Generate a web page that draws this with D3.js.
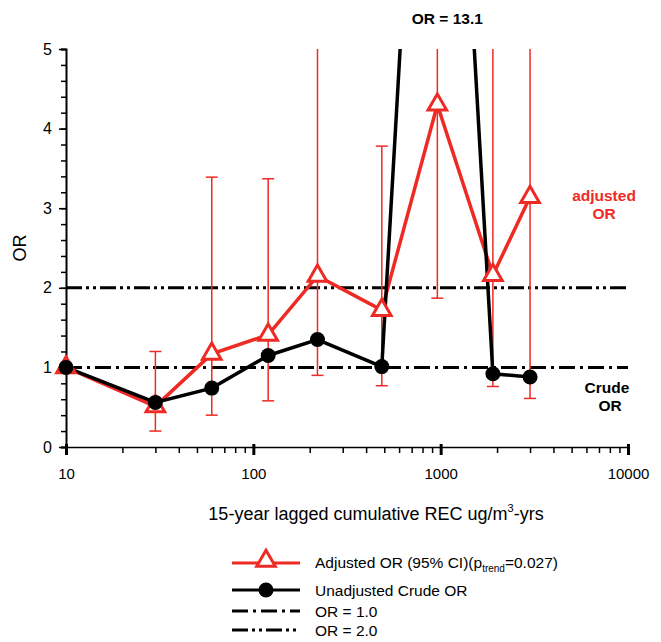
<!DOCTYPE html>
<html>
<head>
<meta charset="utf-8">
<script src="https://cdn.jsdelivr.net/npm/d3@7"></script>
<style>
  body { margin: 0; background: #fff; }
  svg text { font-family: "Liberation Sans", Arial, sans-serif; }
  .axis path, .axis line { stroke: #000; }
</style>
</head>
<body>
<div id="chart"></div>
<script>

// exposure categories (ug/m3-yrs)
var exposure = [10, 30, 60, 120, 220, 485, 960, 1900, 3000];

// adjusted OR with 95% CI (null = reference category)
var adjustedOR = [1.0, 0.51, 1.17, 1.41, 2.15, 1.72, 4.30, 2.16, 3.14];
var ciLower = [null, 0.20, 0.40, 0.58, 0.90, 0.77, 1.87, 0.76, 0.61];
var ciUpper = [null, 1.20, 3.39, 3.37, 9.0, 3.78, 20.0, 9.0, 9.0];

// unadjusted crude OR
var crudeOR = [1.0, 0.56, 0.74, 1.15, 1.35, 1.01, 13.1, 0.92, 0.88];

var yTicks = [0, 1, 2, 3, 4, 5];
var xMajorTicks = [10, 100, 1000, 10000];

var red = "#ee2a24";

var width = 661, height = 642;
var margin = {left: 66, right: 33, top: 49, bottom: 195};

var svg = d3.select("#chart").append("svg")
    .attr("width", width)
    .attr("height", height);

var x = d3.scaleLog()
    .domain([10, 10000])
    .range([margin.left, width - margin.right]);
var y = d3.scaleLinear()
    .domain([0, 5])
    .range([height - margin.bottom, margin.top]);

// clip everything above OR = 5
svg.append("clipPath").attr("id", "plot-clip")
    .append("rect")
    .attr("x", 0).attr("y", y(5))
    .attr("width", width).attr("height", y(0) - y(5) + 20);

// Axes
var minorX = [];
[10, 100, 1000].forEach(function(d) {
    for (var k = 2; k <= 9; k++) minorX.push(d * k);
});

svg.append("g")
    .attr("class", "axis")
    .attr("transform", "translate(0," + y(0) + ")")
    .call(d3.axisBottom(x).tickValues(minorX).tickSize(6).tickFormat(""))
    .call(function(g) {
        g.select(".domain").attr("stroke-width", 1.5);
        g.selectAll(".tick line").attr("stroke-width", 1.5);
    });

svg.append("g")
    .attr("class", "axis")
    .attr("transform", "translate(0," + y(0) + ")")
    .call(d3.axisBottom(x).tickValues(xMajorTicks).tickSize(8).tickPadding(13)
        .tickFormat(d3.format("d")))
    .call(function(g) {
        g.select(".domain").remove();
        g.selectAll(".tick line").attr("stroke-width", 3).attr("y1", -3);
        g.selectAll(".tick text").attr("font-size", 15).attr("fill", "#000");
    });

var minorY = d3.range(0, 5.01, 0.2).map(function(d) { return +d.toFixed(1); });

svg.append("g")
    .attr("class", "axis")
    .attr("transform", "translate(" + x(10) + ",0)")
    .call(d3.axisLeft(y).tickValues(minorY).tickSize(5).tickFormat(""))
    .call(function(g) {
        g.select(".domain").attr("stroke-width", 2);
        g.selectAll(".tick line").attr("stroke-width", 1.5);
    });

svg.append("g")
    .attr("class", "axis")
    .attr("transform", "translate(" + x(10) + ",0)")
    .call(d3.axisLeft(y).tickValues(yTicks).tickSize(7).tickPadding(7)
        .tickFormat(d3.format("d")))
    .call(function(g) {
        g.select(".domain").remove();
        g.selectAll(".tick line").attr("stroke-width", 1.5);
        g.selectAll(".tick text").attr("font-size", 16).attr("fill", "#000");
    });

// axis titles
svg.append("text")
    .attr("transform", "translate(26," + y(2.5) + ") rotate(-90)")
    .attr("text-anchor", "middle")
    .attr("font-size", 18)
    .text("OR");

var xTitle = svg.append("text")
    .attr("x", 376).attr("y", 520)
    .attr("text-anchor", "middle")
    .attr("font-size", 18);
xTitle.append("tspan").text("15-year lagged cumulative REC ug/m");
xTitle.append("tspan").attr("font-size", 11).attr("dy", -8).text("3");
xTitle.append("tspan").attr("dy", 8).text("-yrs");

// reference lines
var dashOne = "16,5,3,5";
var dashTwo = "16,4,3,4,3,4";

svg.append("line")
    .attr("x1", x(10)).attr("x2", x(10000))
    .attr("y1", y(1)).attr("y2", y(1))
    .attr("stroke", "#000").attr("stroke-width", 3)
    .attr("stroke-dasharray", dashOne);
svg.append("line")
    .attr("x1", x(10)).attr("x2", x(10000))
    .attr("y1", y(2)).attr("y2", y(2))
    .attr("stroke", "#000").attr("stroke-width", 3)
    .attr("stroke-dasharray", dashTwo);

var plot = svg.append("g").attr("clip-path", "url(#plot-clip)");

// error bars
exposure.forEach(function(d, i) {
    if (ciLower[i] === null) return;
    plot.append("line")
        .attr("x1", x(d)).attr("x2", x(d))
        .attr("y1", y(ciLower[i])).attr("y2", y(ciUpper[i]))
        .attr("stroke", red).attr("stroke-width", 1.5);
    [ciLower[i], ciUpper[i]].forEach(function(v) {
        if (v > 5) return;
        plot.append("line")
            .attr("x1", x(d) - 6).attr("x2", x(d) + 6)
            .attr("y1", y(v)).attr("y2", y(v))
            .attr("stroke", red).attr("stroke-width", 1.5);
    });
});

var line = d3.line()
    .x(function(d) { return x(d[0]); })
    .y(function(d) { return y(d[1]); });

var triangle = d3.symbol().type(d3.symbolTriangle).size(150);

// adjusted OR
plot.append("path")
    .attr("d", line(d3.zip(exposure, adjustedOR)))
    .attr("fill", "none").attr("stroke", red).attr("stroke-width", 3.5);

// crude OR
plot.append("path")
    .attr("d", line(d3.zip(exposure, crudeOR)))
    .attr("fill", "none").attr("stroke", "#000").attr("stroke-width", 3.5);

plot.selectAll(".tri")
    .data(d3.zip(exposure, adjustedOR))
    .enter().append("path")
    .attr("class", "tri")
    .attr("transform", function(d) { return "translate(" + x(d[0]) + "," + y(d[1]) + ")"; })
    .attr("d", triangle)
    .attr("fill", "#fff").attr("stroke", red).attr("stroke-width", 3);

plot.selectAll(".dot")
    .data(d3.zip(exposure, crudeOR).filter(function(d) { return d[1] <= 5; }))
    .enter().append("circle")
    .attr("class", "dot")
    .attr("cx", function(d) { return x(d[0]); })
    .attr("cy", function(d) { return y(d[1]); })
    .attr("r", 7.5)
    .attr("fill", "#000");

// annotations
svg.append("text")
    .attr("x", x(960) + 10).attr("y", 24)
    .attr("text-anchor", "middle")
    .attr("font-size", 15.5).attr("font-weight", "bold")
    .text("OR = " + crudeOR[6]);

var adjLabel = svg.append("text")
    .attr("text-anchor", "middle")
    .attr("font-size", 15.5).attr("font-weight", "bold")
    .attr("fill", red);
adjLabel.append("tspan").attr("x", 604).attr("y", 201).text("adjusted");
adjLabel.append("tspan").attr("x", 604).attr("y", 219).text("OR");

var crudeLabel = svg.append("text")
    .attr("text-anchor", "middle")
    .attr("font-size", 15.5).attr("font-weight", "bold")
    .attr("fill", "#000");
crudeLabel.append("tspan").attr("x", 607).attr("y", 393).text("Crude");
crudeLabel.append("tspan").attr("x", 610).attr("y", 411).text("OR");

// legend
var legend = svg.append("g");
var lx1 = 232, lx2 = 300, tx = 315;

legend.append("line")
    .attr("x1", lx1).attr("x2", lx2).attr("y1", 563).attr("y2", 563)
    .attr("stroke", red).attr("stroke-width", 3);
legend.append("path")
    .attr("transform", "translate(" + ((lx1 + lx2) / 2) + ",561)")
    .attr("d", triangle)
    .attr("fill", "#fff").attr("stroke", red).attr("stroke-width", 3);
var t1 = legend.append("text").attr("x", tx).attr("y", 568).attr("font-size", 15.5);
t1.append("tspan").text("Adjusted OR (95% CI)(p");
t1.append("tspan").attr("font-size", 10).attr("dy", 4).text("trend");
t1.append("tspan").attr("dy", -4).text("=0.027)");

legend.append("line")
    .attr("x1", lx1).attr("x2", lx2).attr("y1", 590).attr("y2", 590)
    .attr("stroke", "#000").attr("stroke-width", 3);
legend.append("circle")
    .attr("cx", (lx1 + lx2) / 2).attr("cy", 590).attr("r", 7.5).attr("fill", "#000");
legend.append("text").attr("x", tx).attr("y", 596).attr("font-size", 15.5)
    .text("Unadjusted Crude OR");

legend.append("line")
    .attr("x1", lx1).attr("x2", lx2).attr("y1", 611).attr("y2", 611)
    .attr("stroke", "#000").attr("stroke-width", 3)
    .attr("stroke-dasharray", dashOne);
legend.append("text").attr("x", tx).attr("y", 617).attr("font-size", 15.5)
    .text("OR = 1.0");

legend.append("line")
    .attr("x1", lx1).attr("x2", lx2).attr("y1", 630).attr("y2", 630)
    .attr("stroke", "#000").attr("stroke-width", 3)
    .attr("stroke-dasharray", dashTwo);
legend.append("text").attr("x", tx).attr("y", 636).attr("font-size", 15.5)
    .text("OR = 2.0");

</script>
</body>
</html>
